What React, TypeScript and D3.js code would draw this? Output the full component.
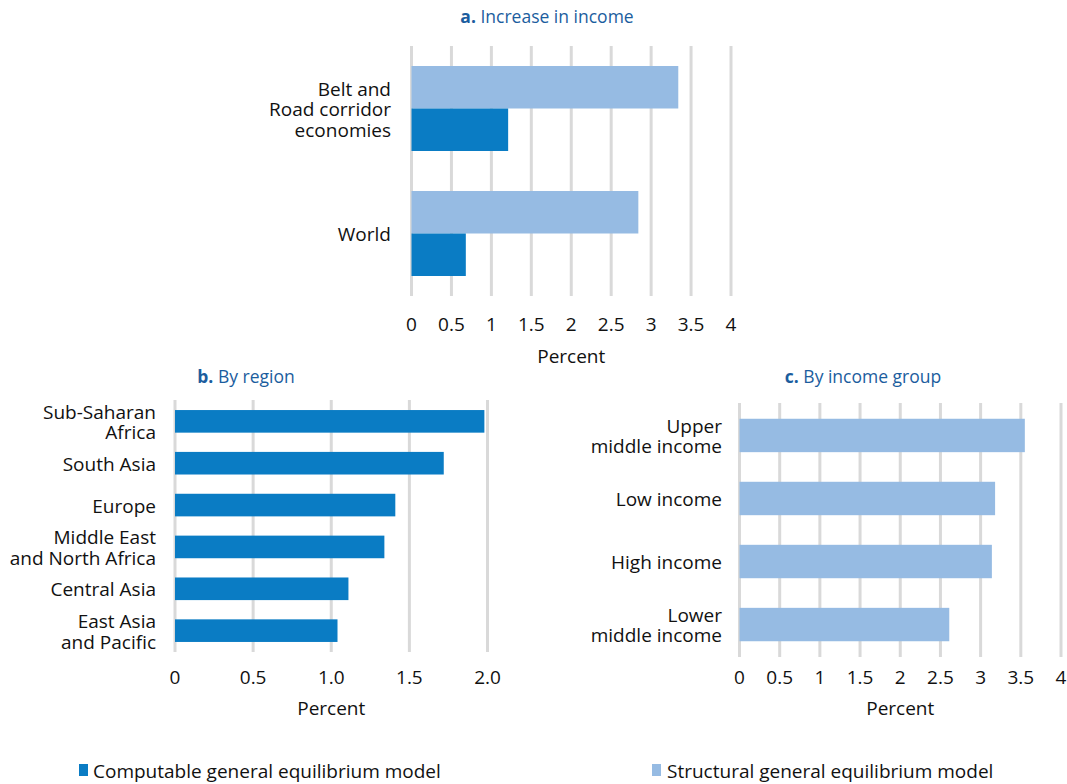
import React from "react";
import * as d3 from "d3";

const aCategories = ["Belt and\nRoad corridor\neconomies", "World"];
const aCGE = [1.21, 0.68];
const aSGE = [3.34, 2.84];
const aTicks = [0, 0.5, 1, 1.5, 2, 2.5, 3, 3.5, 4];

const bCategories = ["Sub-Saharan\nAfrica", "South Asia", "Europe", "Middle East\nand North Africa", "Central Asia", "East Asia\nand Pacific"];
const bCGE = [1.98, 1.72, 1.41, 1.34, 1.11, 1.04];
const bTicks = [0, 0.5, 1.0, 1.5, 2.0];

const cCategories = ["Upper\nmiddle income", "Low income", "High income", "Lower\nmiddle income"];
const cSGE = [3.55, 3.18, 3.14, 2.61];
const cTicks = [0, 0.5, 1, 1.5, 2, 2.5, 3, 3.5, 4];

const DARK = "#0A7CC4";
const LIGHT = "#96BBE3";
const GRID = "#D9D9D9";
const TITLE = "#1B5D9E";
const FONT = "'Open Sans', sans-serif";
const FS = 19;
const TFS = 17.5;

function MultiLabel({ x, y, text }: { x: number; y: number; text: string }) {
  const lines = text.split("\n");
  const lh = 20.5;
  const y0 = y - ((lines.length - 1) * lh) / 2 + 1;
  return (
    <text x={x} textAnchor="end" fontSize={FS} fontFamily={FONT} fill="#111">
      {lines.map((l, i) => (
        <tspan key={i} x={x} y={y0 + i * lh} dy="0.35em">{l}</tspan>
      ))}
    </text>
  );
}

function Panel({
  titleB, titleR, titleX, titleY, x0, x1, domainMax, y0, y1, categories, series, colors, ticks, tickFmt,
  paddingInner, paddingOuter, labelX, tickY, percentY,
}: any) {
  const x = d3.scaleLinear().domain([0, domainMax]).range([x0, x1]);
  const y = d3.scaleBand<string>().domain(categories).range([y0, y1]).paddingInner(paddingInner).paddingOuter(paddingOuter);
  const sub = d3.scaleBand<number>().domain(d3.range(series.length)).range([0, y.bandwidth()]);
  return (
    <g>
      <text x={titleX} y={titleY} textAnchor="middle" fontSize={TFS} fontFamily={FONT} fill={TITLE}>
        <tspan fontWeight="bold">{titleB}</tspan> {titleR}
      </text>
      {ticks.map((t: number) => (
        <line key={t} x1={x(t)} x2={x(t)} y1={y0} y2={y1} stroke={GRID} strokeWidth={3} />
      ))}
      {series.map((vals: number[], si: number) =>
        categories.map((c: string, ci: number) => (
          <rect key={si + "-" + ci} x={x(0)} y={(y(c) as number) + (sub(si) as number)} width={x(vals[ci]) - x(0)} height={sub.bandwidth()} fill={colors[si]} />
        ))
      )}
      {categories.map((c: string) => (
        <MultiLabel key={c} x={labelX} y={(y(c) as number) + y.bandwidth() / 2} text={c} />
      ))}
      {ticks.map((t: number) => (
        <text key={"t" + t} x={x(t)} y={tickY} textAnchor="middle" fontSize={FS} fontFamily={FONT} fill="#111" dy="0.35em">
          {tickFmt(t)}
        </text>
      ))}
      <text x={(x0 + x1) / 2} y={percentY} textAnchor="middle" fontSize={FS} fontFamily={FONT} fill="#111" dy="0.35em">Percent</text>
    </g>
  );
}

export default function App() {
  return (
    <svg width={1067} height={784} style={{ position: "absolute", left: 0, top: 0, background: "#fff" }}>
      <Panel titleB="a." titleR="Increase in income" titleX={547} titleY={23}
        x0={411.5} x1={731} domainMax={4} y0={46} y1={296}
        categories={aCategories} series={[aSGE, aCGE]} colors={[LIGHT, DARK]}
        ticks={aTicks} tickFmt={(t: number) => String(t)} paddingInner={0.32} paddingOuter={0.16}
        labelX={391} tickY={324} percentY={356} />
      <Panel titleB="b." titleR="By region" titleX={246} titleY={383}
        x0={175} x1={487.5} domainMax={2} y0={400} y1={652}
        categories={bCategories} series={[bCGE]} colors={[DARK]}
        ticks={bTicks} tickFmt={(t: number) => (t === 0 ? "0" : d3.format(".1f")(t))} paddingInner={0.46} paddingOuter={0.24}
        labelX={156} tickY={677} percentY={708} />
      <Panel titleB="c." titleR="By income group" titleX={863} titleY={383}
        x0={739.5} x1={1061} domainMax={4} y0={403} y1={657}
        categories={cCategories} series={[cSGE]} colors={[LIGHT]}
        ticks={cTicks} tickFmt={(t: number) => String(t)} paddingInner={0.47} paddingOuter={0.25}
        labelX={722} tickY={677} percentY={708} />
      <rect x={79} y={764} width={9} height={12} fill={DARK} />
      <text x={93} y={771} fontSize={FS} fontFamily={FONT} fill="#111" dy="0.35em">Computable general equilibrium model</text>
      <rect x={652} y={764} width={9} height={12} fill={LIGHT} />
      <text x={667} y={771} fontSize={FS} fontFamily={FONT} fill="#111" dy="0.35em">Structural general equilibrium model</text>
    </svg>
  );
}
